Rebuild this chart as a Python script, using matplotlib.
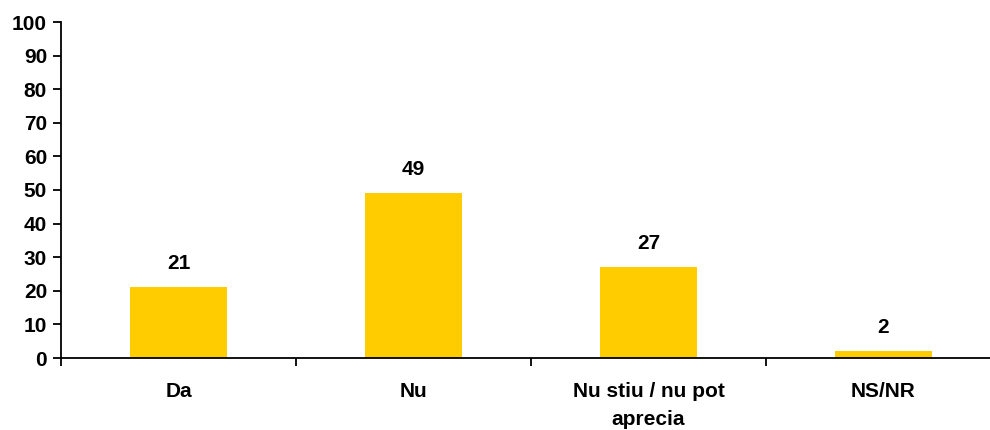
import numpy as np
import matplotlib.pyplot as plt
from matplotlib.ticker import FixedLocator, NullFormatter

plt.rcParams['font.family'] = ['Liberation Sans', 'DejaVu Sans']
plt.rcParams['font.weight'] = 'bold'

categories = ['Da', 'Nu', 'Nu stiu / nu pot\naprecia', 'NS/NR']
values = [21, 49, 27, 2]
yticks = [0, 10, 20, 30, 40, 50, 60, 70, 80, 90, 100]

fig = plt.figure(figsize=(9.9, 4.3), dpi=100)
ax = fig.add_axes([61 / 990, 1 - 358 / 430, 940 / 990, 336 / 430])

x = np.arange(len(categories))
bars = ax.bar(x, values, width=0.41, color='#FFCC00')

for xi, v in zip(x, values):
    ax.annotate(str(v), (xi, v), xytext=(0, 13), textcoords='offset points',
                ha='center', va='baseline', fontsize=15, fontweight='bold')

ax.set_xlim(-0.5, len(categories) - 0.5)
ax.set_ylim(0, 100)
ax.set_yticks(yticks)
ax.tick_params(axis='y', labelsize=15, length=6, width=1.3, direction='out', pad=4)

# category labels sit between the boundary ticks
ax.xaxis.set_major_locator(FixedLocator(np.arange(len(categories) + 1) - 0.5))
ax.xaxis.set_major_formatter(NullFormatter())
ax.xaxis.set_minor_locator(FixedLocator(x))
ax.set_xticklabels(categories, minor=True, fontsize=15, fontweight='bold')
ax.tick_params(axis='x', which='major', length=6, width=1.3, direction='out')
ax.tick_params(axis='x', which='minor', length=0, pad=17)
for lbl in ax.get_xticklabels(minor=True):
    lbl.set_linespacing(1.65)

ax.spines['top'].set_visible(False)
ax.spines['right'].set_visible(False)
ax.spines['left'].set_linewidth(1.3)
ax.spines['bottom'].set_linewidth(1.3)

fig.savefig('out.png', dpi=100)
